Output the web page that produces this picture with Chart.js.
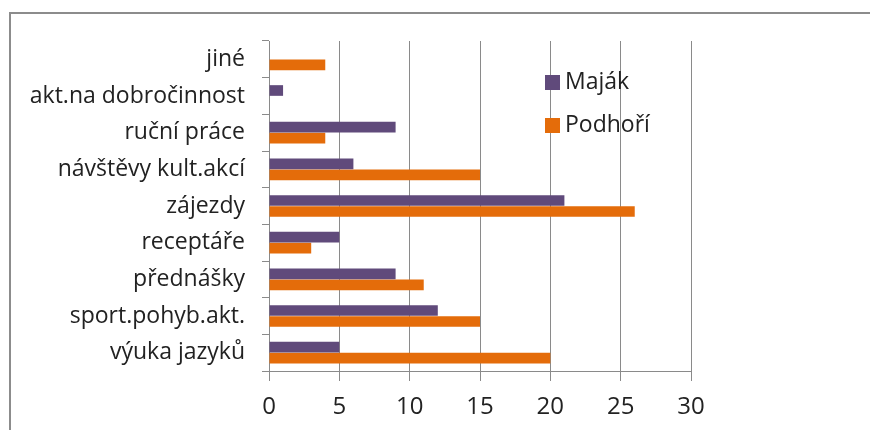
<!DOCTYPE html>
<html><head><meta charset="utf-8">
<script src="https://cdn.jsdelivr.net/npm/chart.js@4/dist/chart.umd.min.js"></script>
<style>
html,body{margin:0;padding:0;background:#fff;}
#wrap{position:relative;width:870px;height:430px;overflow:hidden;background:#fff;}
#frame{position:absolute;left:9px;top:12px;width:900px;height:500px;border-left:2px solid #8c8c8c;border-top:2px solid #8c8c8c;}
canvas{position:absolute;left:0;top:0;}
</style></head><body>
<div id="wrap"><div id="frame"></div><canvas id="c" width="870" height="430"></canvas></div>
<script>
const categories = ["jiné","akt.na dobročinnost","ruční práce","návštěvy kult.akcí","zájezdy","receptáře","přednášky","sport.pohyb.akt.","výuka jazyků"];
const seriesNames = ["Maják","Podhoří"];
const majak = [0,1,9,6,21,5,9,12,5];
const podhori = [4,0,4,15,26,3,11,15,20];
const xTicks = [0,5,10,15,20,25,30];
const colors = ["#604a7b","#e46c0a"];

const FONT = "'Open Sans', sans-serif";
const TXT = "#222222";
const GRID = "#8a8a8a";

const legendPlugin = {
  id: 'innerLegend',
  afterDraw(chart) {
    const ctx = chart.ctx;
    ctx.save();
    ctx.font = "23px " + FONT;
    ctx.textBaseline = 'middle';
    ctx.textAlign = 'left';
    chart.data.datasets.forEach((ds, i) => {
      const y = 75 + i * 43;
      ctx.fillStyle = ds.backgroundColor;
      ctx.fillRect(545, y, 15, 15);
      ctx.fillStyle = TXT;
      ctx.fillText(ds.label, 565, y + 7);
    });
    ctx.restore();
  }
};

new Chart(document.getElementById('c'), {
  type: 'bar',
  data: {
    labels: categories,
    datasets: [
      {label: seriesNames[0], data: majak, backgroundColor: colors[0], categoryPercentage: 0.6, barPercentage: 0.97},
      {label: seriesNames[1], data: podhori, backgroundColor: colors[1], categoryPercentage: 0.6, barPercentage: 0.97}
    ]
  },
  options: {
    indexAxis: 'y',
    responsive: false,
    animation: false,
    devicePixelRatio: 1,
    layout: {padding: {top: 41, right: 179, left: 0, bottom: 0}},
    plugins: {legend: {display: false}, tooltip: {enabled: false}},
    scales: {
      x: {
        min: 0, max: 30,
        afterBuildTicks: s => { s.ticks = xTicks.map(v => ({value: v})); },
        afterFit: s => { s.height = 59; },
        grid: {color: GRID, lineWidth: 1, tickLength: 10, tickColor: GRID},
        border: {display: true, color: GRID},
        ticks: {color: TXT, font: {family: FONT, size: 24}, padding: 12}
      },
      y: {
        afterFit: s => { s.width = 269; },
        grid: {offset: true, drawOnChartArea: false, tickLength: 7, color: GRID, tickColor: GRID},
        border: {display: true, color: GRID},
        ticks: {color: TXT, font: {family: FONT, size: 23}, padding: 17}
      }
    }
  },
  plugins: [legendPlugin]
});
</script>
</body></html>
